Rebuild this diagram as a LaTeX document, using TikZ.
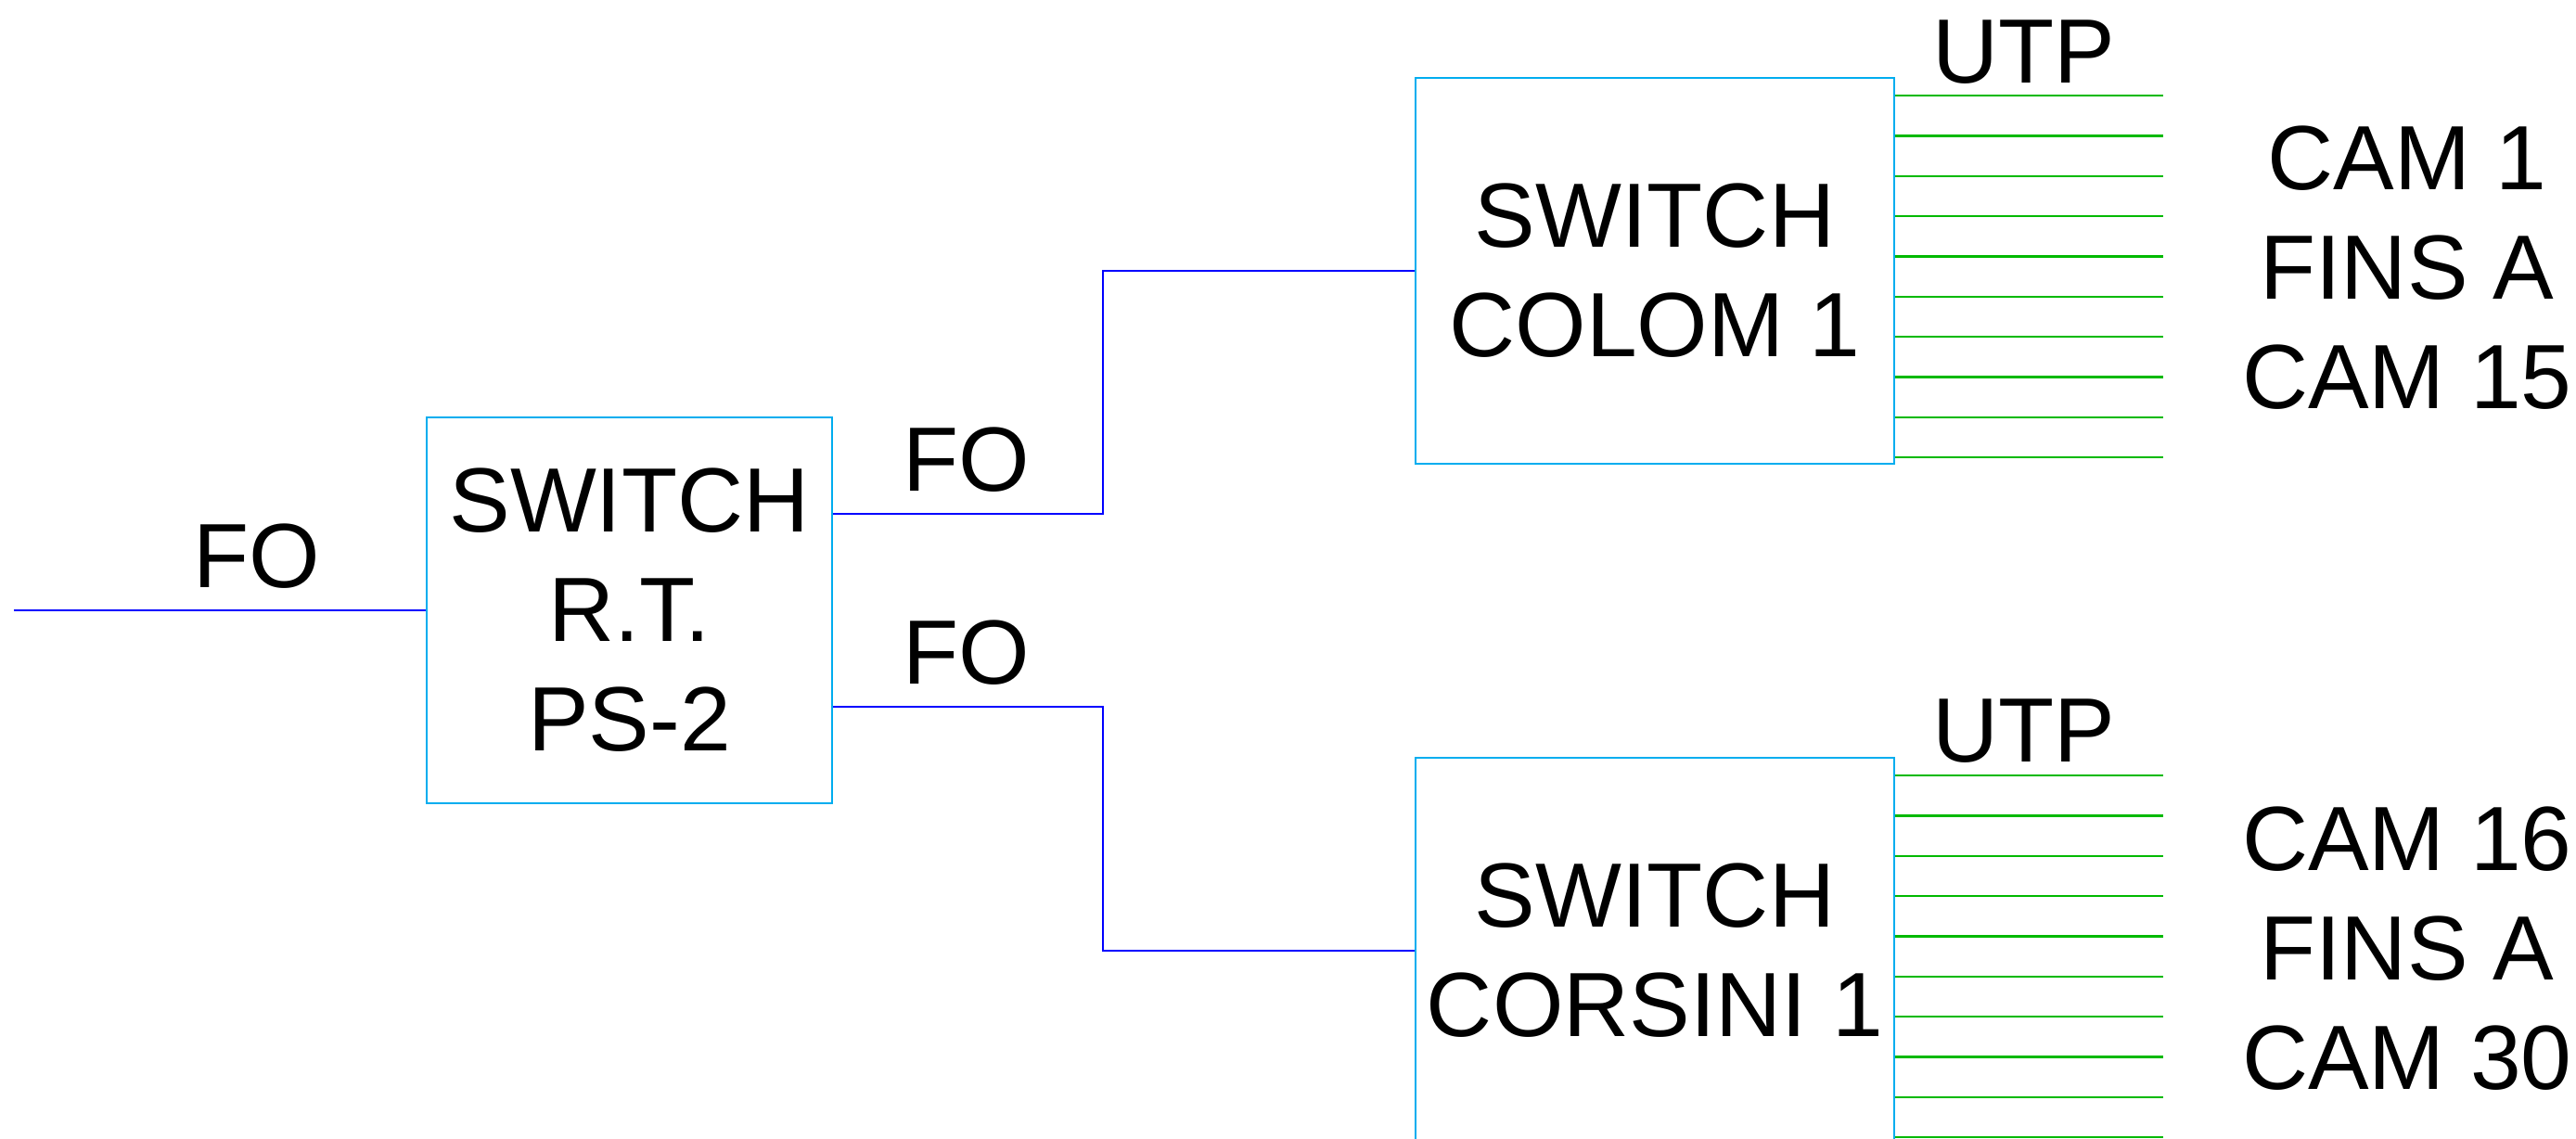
\documentclass[tikz,border=0pt]{standalone}
\usepackage{fontspec}
\setmainfont{Liberation Sans}
\usetikzlibrary{calc}
\definecolor{utpgreen}{RGB}{0,185,0}
\newcommand{\cadfont}{\fontsize{28}{33.6}\selectfont}
\tikzset{
  fo line/.style={line width=0.65pt,blue},
  utp line/.style={line width=0.65pt,utpgreen},
  switch box/.style={draw=cyan,line width=0.5pt,inner sep=0pt,align=center,font=\cadfont},
  cad label/.style={inner sep=0pt,align=center,font=\cadfont},
}

\begin{document}
\begin{tikzpicture}
\useasboundingbox (0,0) rectangle (27.77,-12.28);
% switches
\node[switch box,minimum width=4.37cm,minimum height=4.16cm] (rt) at (6.785,-6.58) {SWITCH\\R.T.\\PS-2};
\node[switch box,minimum width=5.16cm,minimum height=4.16cm] (colom) at (17.84,-2.92) {SWITCH\\COLOM 1};
\node[switch box,minimum width=5.16cm,minimum height=4.16cm] (corsini) at (17.84,-10.25) {SWITCH\\CORSINI 1};
% cable labels
\node[cad label] (fo in) at (2.77,-6.00) {FO};
\node[cad label] (fo up) at (10.42,-4.96) {FO};
\node[cad label] (fo down) at (10.42,-7.04) {FO};
\node[cad label] (utp up) at (21.82,-0.565) {UTP};
\node[cad label] (utp down) at (21.82,-7.885) {UTP};
\node[cad label] (cams up) at (25.95,-2.89) {CAM 1\\FINS A\\CAM 15};
\node[cad label] (cams down) at (25.95,-10.225) {CAM 16\\FINS A\\CAM 30};
% fibre
\coordinate (feed) at (0.15,-6.58);
\draw[fo line] (feed) -- (rt.west);
\draw[fo line] ($(rt.east)+(0,1.04)$) -- ++(2.91,0) |- (colom.west);
\draw[fo line] ($(rt.east)+(0,-1.04)$) -- ++(2.91,0) |- (corsini.west);
% utp ports
\foreach \sw in {colom,corsini}{
  \foreach \k in {0,...,9}{
    \draw[utp line] ($(\sw.north east)+(0,-0.2-0.4333*\k)$) -- ++(2.89,0);
  }
}
\end{tikzpicture}
\end{document}
